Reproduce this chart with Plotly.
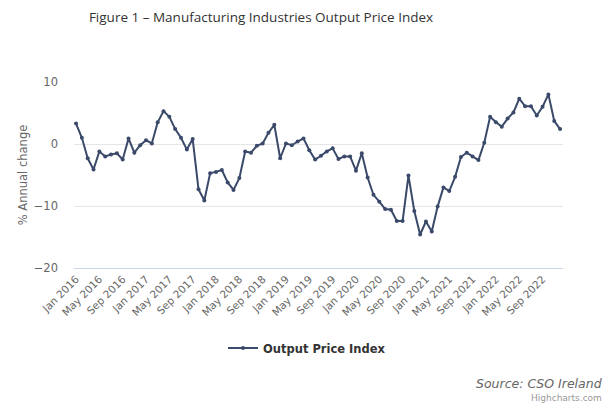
import plotly.graph_objects as go

years = [2016, 2017, 2018, 2019, 2020, 2021, 2022]
month_names = ["Jan", "Feb", "Mar", "Apr", "May", "Jun", "Jul", "Aug", "Sep", "Oct", "Nov", "Dec"]
categories = [f"{m} {y}" for y in years for m in month_names]

output_price_index = [
    # 2016
    3.3, 1.0, -2.3, -4.1, -1.2, -2.0, -1.7, -1.5, -2.5, 0.9, -1.4, -0.2,
    # 2017
    0.6, 0.1, 3.5, 5.3, 4.4, 2.4, 1.0, -0.9, 0.8, -7.3, -9.1, -4.7,
    # 2018
    -4.5, -4.2, -6.2, -7.4, -5.5, -1.2, -1.4, -0.3, 0.1, 1.8, 3.1, -2.3,
    # 2019
    0.1, -0.2, 0.4, 0.9, -1.0, -2.5, -1.9, -1.2, -0.7, -2.4, -2.0, -2.0,
    # 2020
    -4.3, -1.5, -5.4, -8.2, -9.3, -10.5, -10.6, -12.4, -12.4, -5.1, -10.8, -14.6,
    # 2021
    -12.5, -14.1, -10.1, -7.0, -7.6, -5.3, -2.1, -1.4, -2.0, -2.6, 0.2, 4.4,
    # 2022
    3.5, 2.8, 4.1, 5.1, 7.3, 6.1, 6.1, 4.6, 6.0, 8.0, 3.7, 2.4,
]

tick_labels = [
    "Jan 2016", "May 2016", "Sep 2016", "Jan 2017", "May 2017", "Sep 2017",
    "Jan 2018", "May 2018", "Sep 2018", "Jan 2019", "May 2019", "Sep 2019",
    "Jan 2020", "May 2020", "Sep 2020", "Jan 2021", "May 2021", "Sep 2021",
    "Jan 2022", "May 2022", "Sep 2022",
]
y_ticks = [10, 0, -10, -20]
y_tick_text = ["10", "0", "\u221210", "\u221220"]

FONT = "DejaVu Sans"
TITLE_FONT = "Open Sans"
LINE_COLOR = "#3b4a6a"

W, H = 614, 405
L, R, T, B = 74, 51, 82, 137
PW, PH = W - L - R, H - T - B

fig = go.Figure()
fig.add_trace(go.Scatter(
    x=categories,
    y=output_price_index,
    mode="lines+markers",
    name="Output Price Index",
    line=dict(color=LINE_COLOR, width=2),
    marker=dict(color=LINE_COLOR, size=4),
))

fig.update_layout(
    width=W,
    height=H,
    paper_bgcolor="white",
    plot_bgcolor="white",
    margin=dict(l=L, r=R, t=T, b=B, autoexpand=False),
    font=dict(family=FONT, color="#666666", size=11),
    title=dict(
        text="Figure 1 \u2013 Manufacturing Industries Output Price Index",
        x=261 / W, xanchor="center", xref="container",
        y=1 - 17 / H, yanchor="middle", yref="container",
        font=dict(family=TITLE_FONT, size=13.5, color="#333333"),
    ),
    showlegend=True,
    legend=dict(
        orientation="h",
        x=(307 - L) / PW, xanchor="center",
        y=-(348 - (T + PH)) / PH, yanchor="middle",
        itemwidth=30,
        font=dict(family=FONT, size=11.5, color="#333333", weight="bold"),
        bgcolor="rgba(0,0,0,0)",
    ),
    xaxis=dict(
        type="category",
        range=[-0.35, 83.5],
        tickmode="array",
        tickvals=tick_labels,
        ticktext=tick_labels,
        tickangle=-45,
        tickfont=dict(family=FONT, size=10.5, color="#666666"),
        showgrid=False,
        showline=True,
        linecolor="#ccd6eb",
        linewidth=1,
        ticks="",
        zeroline=False,
        fixedrange=True,
    ),
    yaxis=dict(
        range=[-20, 10],
        tickmode="array",
        tickvals=y_ticks,
        ticktext=y_tick_text,
        tickfont=dict(family=FONT, size=11.5, color="#666666"),
        showgrid=True,
        gridcolor="#e6e6e6",
        gridwidth=1,
        zeroline=False,
        showline=False,
        ticks="",
        ticklabelstandoff=15,
        title=dict(text="% Annual change", font=dict(family=FONT, size=11.5, color="#666666"), standoff=3),
    ),
    annotations=[
        dict(
            text="<i>Source: CSO Ireland</i>",
            xref="paper", yref="paper",
            x=1 + 41 / PW, xanchor="right",
            y=-(383 - (T + PH)) / PH, yanchor="middle",
            showarrow=False,
            font=dict(family=FONT, size=12.5, color="#666666"),
        ),
        dict(
            text="Highcharts.com",
            xref="paper", yref="paper",
            x=1 + 41 / PW, xanchor="right",
            y=-(398 - (T + PH)) / PH, yanchor="middle",
            showarrow=False,
            font=dict(family=FONT, size=9, color="#999999"),
        ),
    ],
)

fig.write_html(
    "out.html",
    config={"displayModeBar": False},
    post_script="document.body.style.margin='0';document.body.style.padding='0';",
)
